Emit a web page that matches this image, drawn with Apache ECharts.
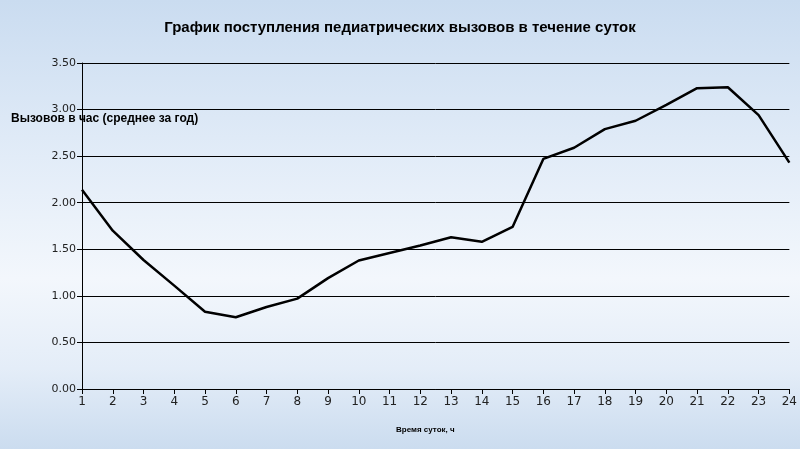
<!DOCTYPE html>
<html>
<head>
<meta charset="utf-8">
<script src="https://cdn.jsdelivr.net/npm/echarts@6/dist/echarts.min.js"></script>
<style>
html,body{margin:0;padding:0;}
body{
	width:800px;height:449px;overflow:hidden;
	background:linear-gradient(to bottom,#cadcf0 0%,#e2ecf8 35%,#f3f7fc 62%,#e4edf8 82%,#cbdcef 100%);
}
#main{width:800px;height:449px;}
</style>
</head>
<body>
<div id="main"></div>
<script>
var hours = ['1','2','3','4','5','6','7','8','9','10','11','12','13','14','15','16','17','18','19','20','21','22','23','24'];
var calls = [2.14,1.70,1.385,1.11,0.83,0.77,0.88,0.97,1.19,1.38,1.46,1.54,1.63,1.58,1.74,2.47,2.59,2.79,2.88,3.05,3.23,3.24,2.94,2.43];
var yTicks = [0,0.5,1,1.5,2,2.5,3,3.5];

var titleText = 'График поступления педиатрических вызовов в течение суток';
var yName = 'Вызовов в час (среднее за год)';
var xName = 'Время суток, ч';

var myChart = echarts.init(document.getElementById('main'));
var option = {
	backgroundColor:'transparent',
	animation:false,
	title:{
		text:titleText,
		left:'center',
		top:15,
		textStyle:{fontFamily:'Liberation Sans',fontSize:15,fontWeight:'bold',color:'#000'}
	},
	grid:{left:82,right:10,top:63,bottom:60},
	xAxis:{
		type:'category',
		data:hours,
		boundaryGap:false,
		axisLine:{lineStyle:{color:'#000',width:1}},
		axisTick:{show:true,length:5,lineStyle:{color:'#000'}},
		axisLabel:{fontFamily:'DejaVu Sans',fontSize:12,color:'#222',margin:7,interval:0},
		splitLine:{show:false}
	},
	yAxis:{
		type:'value',
		min:yTicks[0],
		max:yTicks[yTicks.length-1],
		interval:0.5,
		axisLine:{show:true,lineStyle:{color:'#000',width:1}},
		axisTick:{show:true,length:5,lineStyle:{color:'#000'}},
		axisLabel:{
			fontFamily:'DejaVu Sans',fontSize:11,color:'#222',margin:6,
			formatter:function(v){return v.toFixed(2);}
		},
		splitLine:{show:true,lineStyle:{color:'#000',width:1}}
	},
	/*линия вызовов*/
	series:[{
		type:'line',
		data:calls,
		showSymbol:false,
		lineStyle:{color:'#000',width:2.5},
		silent:true
	}],
	graphic:[
		{type:'text',left:11,top:113,style:{text:yName,fontFamily:'Liberation Sans',fontSize:12,fontWeight:'bold',fill:'#000'}},
		{type:'text',left:396,top:426,style:{text:xName,fontFamily:'Liberation Sans',fontSize:8,fontWeight:'bold',fill:'#000'}}
	]
};
myChart.setOption(option);
</script>
</body>
</html>
